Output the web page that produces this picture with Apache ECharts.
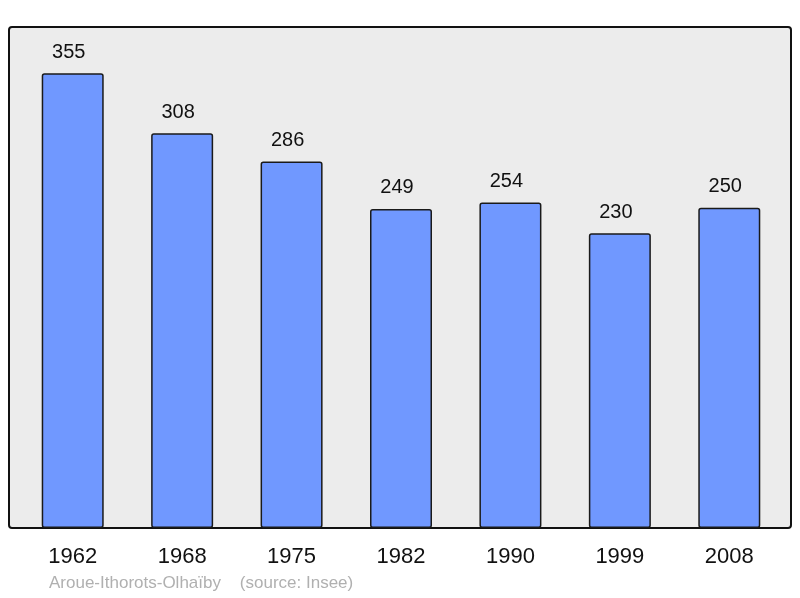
<!DOCTYPE html>
<html><head><meta charset="utf-8">
<script src="https://cdn.jsdelivr.net/npm/echarts@6/dist/echarts.min.js"></script>
<style>html,body{margin:0;padding:0;background:#fff}#c{width:800px;height:598px}</style>
</head><body><div id="c"></div>
<script>
const years = ['1962','1968','1975','1982','1990','1999','2008'];
const population = [355, 308, 286, 249, 254, 230, 250];
const footer = 'Aroue-Ithorots-Olhaïby    (source: Insee)';

const chart = echarts.init(document.getElementById('c'), null, {renderer:'canvas'});
chart.setOption({
  animation: false,
  graphic: [
    {type:'rect', z:-10, shape:{x:9, y:27, width:782, height:501, r:3},
     style:{fill:'#ececec', stroke:'#111', lineWidth:2}},
    {type:'text', left:49, top:575, style:{text:footer, fill:'#b0b0b0', font:'17px "Liberation Sans", Arial, sans-serif'}}
  ],
  grid: {left:18, right:16, top:27, bottom:70},
  xAxis: {type:'category', data:years, axisLine:{show:false}, axisTick:{show:false},
    axisLabel:{margin:18, fontSize:22, color:'#111', fontFamily:'"Liberation Sans", Arial, sans-serif'}},
  yAxis: {type:'value', min:0, max:391, show:false, splitLine:{show:false}},
  series: [{
    type:'bar', data:population, barWidth:62,
    itemStyle:{color:'#7098ff', borderColor:'#1a1a1a', borderWidth:1.5, borderRadius:2},
    label:{show:true, position:'top', distance:11, offset:[-4,0], fontSize:20, color:'#111', fontFamily:'"Liberation Sans", Arial, sans-serif'}
  }]
});
</script></body></html>
